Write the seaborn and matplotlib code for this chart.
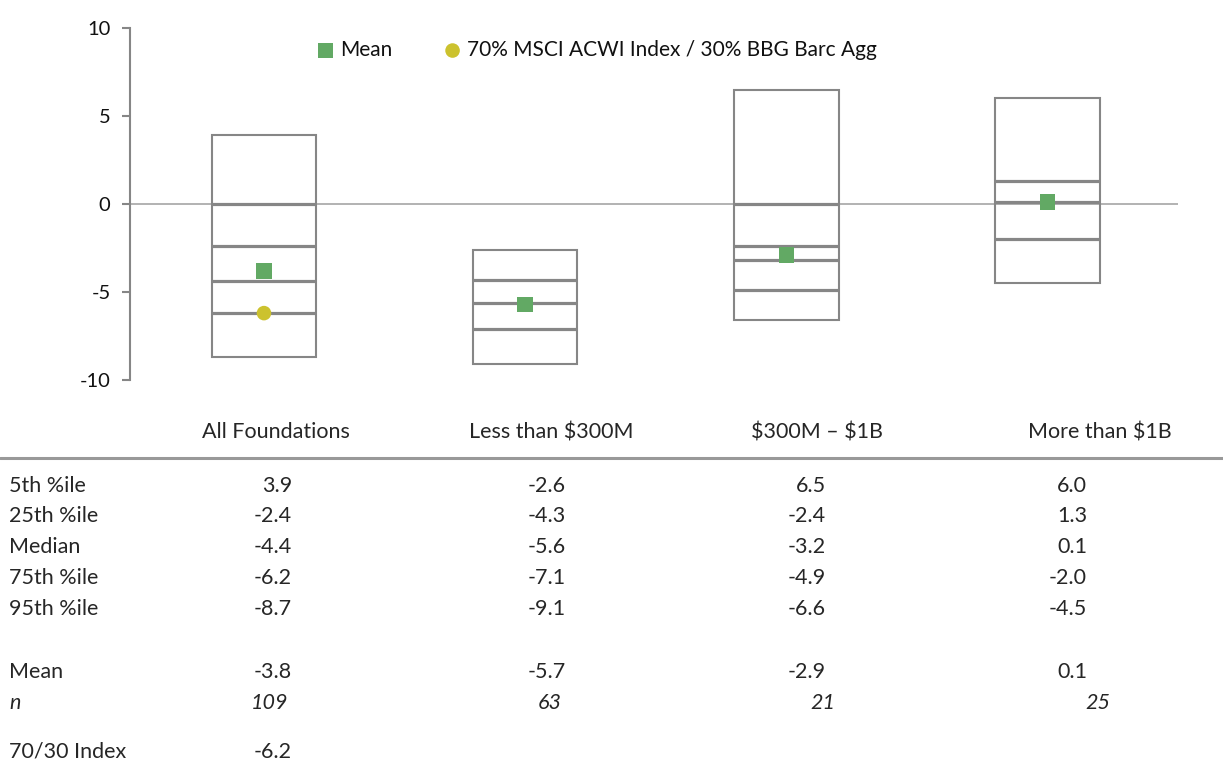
import matplotlib
matplotlib.use("Agg")
import matplotlib.pyplot as plt
from matplotlib.lines import Line2D
import seaborn as sns
import pandas as pd

# data
categories = ["All Foundations", "Less than $300M", "$300M \u2013 $1B", "More than $1B"]
p5 = [3.9, -2.6, 6.5, 6.0]
p25 = [-2.4, -4.3, -2.4, 1.3]
median = [-4.4, -5.6, -3.2, 0.1]
p75 = [-6.2, -7.1, -4.9, -2.0]
p95 = [-8.7, -9.1, -6.6, -4.5]
means = [-3.8, -5.7, -2.9, 0.1]
n_obs = [109, 63, 21, 25]
index_7030 = [-6.2]

row_labels = ["5th %ile", "25th %ile", "Median", "75th %ile", "95th %ile"]

sns.set_theme(style="white")
plt.rcParams['font.family'] = ['Lato', 'DejaVu Sans']
plt.rcParams['text.parse_math'] = False

grey = "#868686"
green = "#62A964"
yellow = "#CCC22E"
fs = 15.5

fig = plt.figure(figsize=(12.23, 7.64), dpi=100)
ax = fig.add_axes([130 / 1223, 1 - 380 / 764, 1048 / 1223, 352 / 764])

xs = list(range(len(categories)))
w = 0.4

# zero line
ax.axhline(0, color="#a6a6a6", lw=1.2, zorder=1)

# boxes
ax.bar(xs, [t - b for t, b in zip(p5, p95)], bottom=p95, width=w,
       fill=False, edgecolor=grey, linewidth=1.5, zorder=2)
for i in xs:
    lines = [p25[i], median[i], p75[i]]
    if p5[i] > 0 > p95[i] and abs(median[i]) > 0.3:
        lines.append(0)
    ax.hlines(lines, i - w / 2, i + w / 2, color=grey, lw=2.3, zorder=3)

df = pd.DataFrame({"x": xs, "mean": means})
sns.scatterplot(data=df, x="x", y="mean", marker="s", s=125, color=green,
                edgecolor="none", ax=ax, zorder=5, label="Mean")
sns.scatterplot(x=[0], y=index_7030, marker="o", s=110, color=yellow,
                edgecolor="none", ax=ax, zorder=5,
                label="70% MSCI ACWI Index / 30% BBG Barc Agg")

ax.set_xlim(-0.513, 3.5)
ax.set_ylim(-10, 10)
ax.set_yticks([-10, -5, 0, 5, 10])
ax.set_yticklabels(["-10", "-5", "0", "5", "10"], fontsize=14.5, color="#111111")
ax.set_xticks([])
ax.set_xlabel("")
ax.set_ylabel("")
for s in ["top", "right", "bottom"]:
    ax.spines[s].set_visible(False)
ax.spines["left"].set_color(grey)
ax.spines["left"].set_linewidth(1.5)
ax.tick_params(axis="y", length=6, width=1.5, color=grey, pad=8, left=True)

leg = ax.legend(loc="center", bbox_to_anchor=(597 / 1223, 1 - 50 / 764),
                bbox_transform=fig.transFigure, ncol=2, frameon=False,
                fontsize=15, handletextpad=0.3, columnspacing=2.5,
                markerscale=1.0, handlelength=0.8)
for t in leg.get_texts():
    t.set_color("#111111")

# table
def fy(px):
    return 1 - px / 764

cat_x = [276, 551, 817, 1100]
for i, c in enumerate(categories):
    fig.text(cat_x[i] / 1223, fy(432), c, ha="center", va="center", fontsize=fs)

fig.add_artist(Line2D([0, 1], [fy(458), fy(458)], transform=fig.transFigure,
                      color="#999999", lw=2.2))

row_y = [486, 516, 547, 578, 609]
val_x = [292, 566, 826, 1087]
n_x = [288, 562, 835, 1110]
for r, (lab, vals) in enumerate(zip(row_labels, [p5, p25, median, p75, p95])):
    fig.text(9 / 1223, fy(row_y[r]), lab, ha="left", va="center", fontsize=fs)
    for i, v in enumerate(vals):
        fig.text(val_x[i] / 1223, fy(row_y[r]), f"{v:.1f}", ha="right",
                 va="center", fontsize=fs)

fig.text(9 / 1223, fy(672), "Mean", ha="left", va="center", fontsize=fs)
for i, v in enumerate(means):
    fig.text(val_x[i] / 1223, fy(672), f"{v:.1f}", ha="right", va="center", fontsize=fs)

fig.text(9 / 1223, fy(703), "n", ha="left", va="center", fontsize=fs, style="italic")
for i, v in enumerate(n_obs):
    fig.text(n_x[i] / 1223, fy(703), str(v), ha="right", va="center",
             fontsize=fs, style="italic")

fig.text(9 / 1223, fy(752), "70/30 Index", ha="left", va="center", fontsize=fs)
fig.text(val_x[0] / 1223, fy(752), f"{index_7030[0]:.1f}", ha="right",
         va="center", fontsize=fs)

fig.savefig("out.png", dpi=100, facecolor="white")
